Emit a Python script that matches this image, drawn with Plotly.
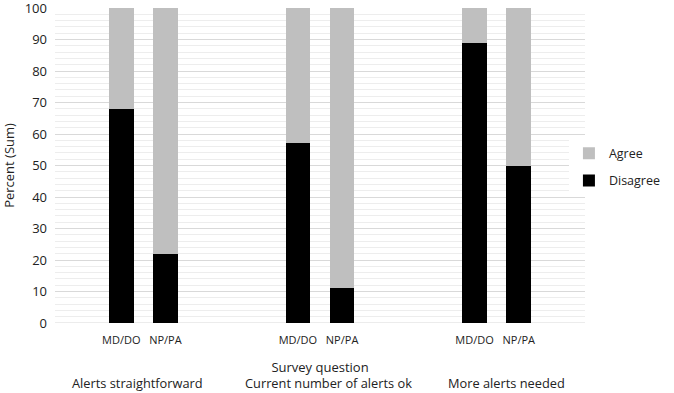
import plotly.graph_objects as go

groups = ["Alerts straightforward", "Current number of alerts ok", "More alerts needed"]
subgroups = ["MD/DO", "NP/PA"]
disagree = [68, 22, 57, 11, 89, 50]
agree = [32, 78, 43, 89, 11, 50]
y_ticks = [0, 10, 20, 30, 40, 50, 60, 70, 80, 90, 100]

# each question occupies 4 slots; the two bars sit in the middle two
xpos = []
xlabels = []
for g in range(len(groups)):
    for s, name in enumerate(subgroups):
        xpos.append(g * 4 + s + 1.5)
        xlabels.append(name)

FONT = "Open Sans"
TXT = "#222222"
fig = go.Figure()
fig.add_trace(go.Bar(x=xpos, y=disagree, name="Disagree", marker_color="#000000",
                     width=0.56, marker_line_width=0, legendgroup="d", legendrank=2))
fig.add_trace(go.Bar(x=xpos, y=agree, name="Agree", marker_color="#bfbfbf",
                     width=0.56, marker_line_width=0, legendgroup="a", legendrank=1))

label_shift = [-6, 8, 10]
for g, name in enumerate(groups):
    fig.add_annotation(x=g * 4 + 2, y=0, xref="x", yref="paper", yshift=-60,
                       xshift=label_shift[g], yanchor="middle", text=name, showarrow=False,
                       font=dict(family=FONT, size=12.8, color=TXT))

fig.update_layout(
    width=674, height=393,
    margin=dict(l=55, r=82, t=8, b=70),
    barmode="stack",
    plot_bgcolor="white", paper_bgcolor="white",
    font=dict(family=FONT, size=12, color=TXT),
    showlegend=True,
    legend=dict(traceorder="grouped", x=1 + 82 / 537, y=0.495, yanchor="middle",
                xanchor="right", font=dict(family=FONT, size=12.5, color=TXT),
                itemwidth=30, tracegroupgap=8, borderwidth=0),
    xaxis=dict(range=[0, 12], tickvals=xpos, ticktext=xlabels, showgrid=False,
               zeroline=False, showline=False, ticks="", tickangle=0, automargin=False,
               ticklabelstandoff=9,
               tickfont=dict(family=FONT, size=11, color=TXT),
               title=dict(text="Survey question", standoff=16,
                          font=dict(family=FONT, size=13, color=TXT))),
    yaxis=dict(range=[0, 100], tickvals=y_ticks, showgrid=True, gridcolor="#d9d9d9",
               gridwidth=1, zeroline=False, showline=False, automargin=False,
               ticks="", ticklabelstandoff=7, ticklabeloverflow="allow",
               tickfont=dict(family=FONT, size=13, color=TXT),
               minor=dict(dtick=2, showgrid=True, gridcolor="#ededed", gridwidth=1),
               title=dict(text="Percent (Sum)", standoff=12,
                          font=dict(family=FONT, size=13, color=TXT))),
)
fig.add_shape(type="line", xref="paper", yref="y", x0=0, x1=1, y0=0, y1=0,
              line=dict(color="#d9d9d9", width=1), layer="below")
fig.write_html("out.html", config={"displayModeBar": False},
               post_script="document.body.style.margin='0';")
